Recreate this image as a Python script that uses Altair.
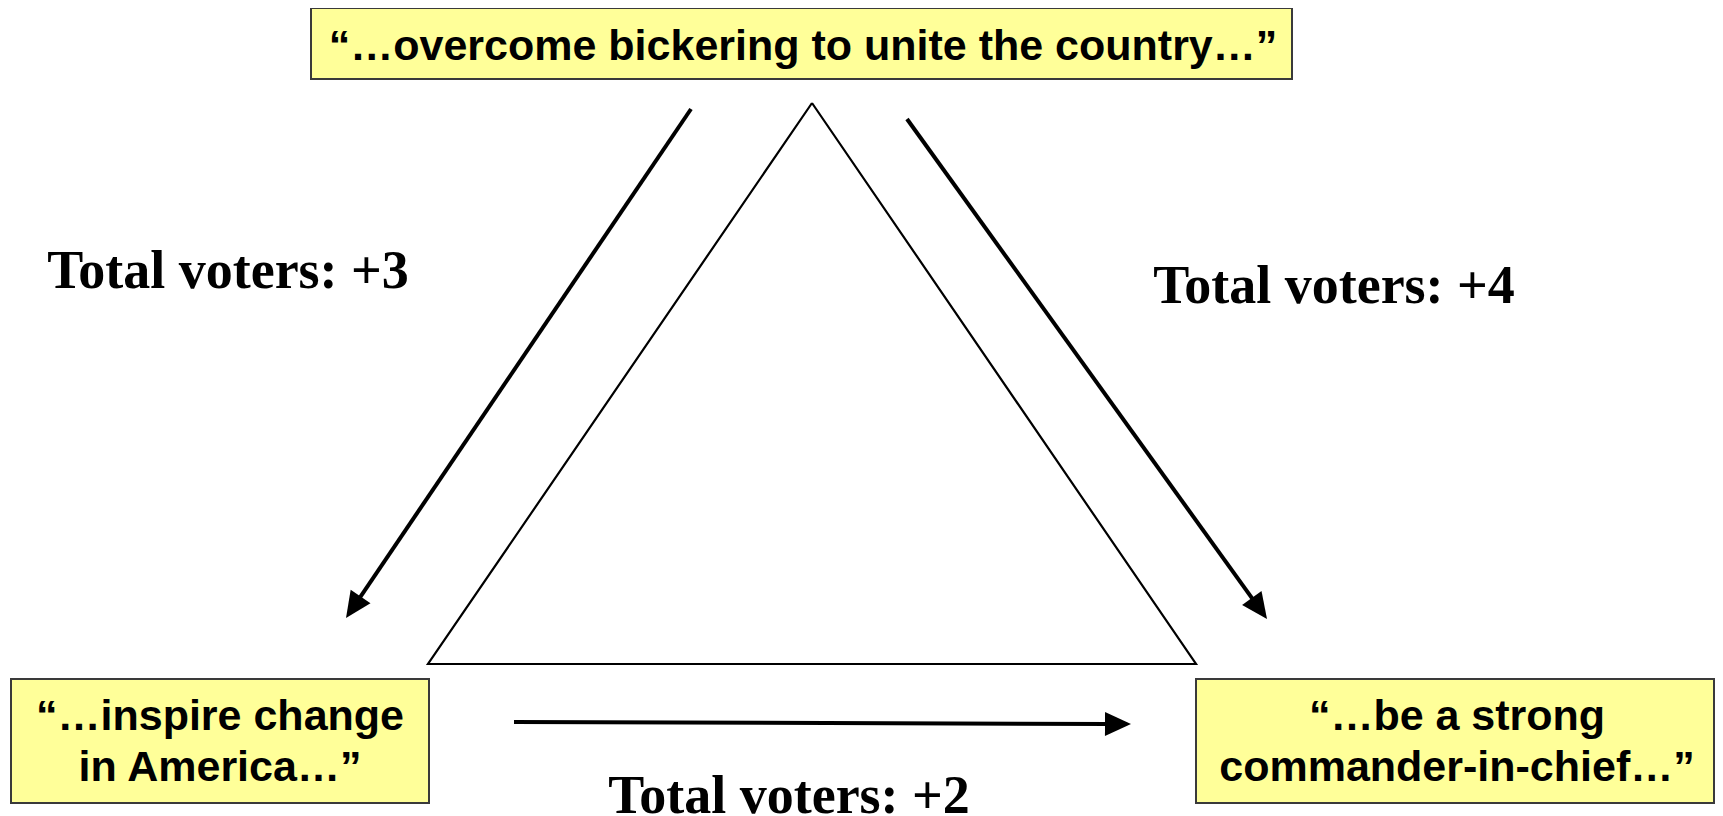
import math
import altair as alt
import pandas as pd

# ---------------- content ----------------
node_quotes = [
    ["“…overcome bickering to unite the country…”"],
    ["“…inspire change", "in America…”"],
    ["“…be a strong", "commander-in-chief…”"],
]
edge_from = [0, 0, 1]
edge_to = [1, 2, 2]
edge_gain = [3, 4, 2]

# ---------------- layout (page pixels) ----------------
W, H = 1707, 808
OX, OY = 8, 8
box_x = [311, 11, 1196]
box_x2 = [1292, 429, 1714]
box_y = [8, 679, 679]
box_y2 = [79, 803, 803]
text_cx = [803, 220, 1457]
text_base = [[60], [730, 781], [730, 781]]

tri_x = [812, 1196, 428, 812]
tri_y = [103, 664, 664, 103]

arrow_start = [(691, 109), (907, 119), (514, 722)]
arrow_tip = [(346, 618), (1267, 619), (1131, 724)]
label_cx = [228, 1334, 789]
label_base = [288, 303, 813]

HEAD_LEN = 26

xs = alt.Scale(domain=[OX, OX + W], nice=False, zero=False)
ys = alt.Scale(domain=[OY, OY + H], reverse=True, nice=False, zero=False)

# boxes
boxes = pd.DataFrame({"x": box_x, "x2": box_x2, "y": box_y, "y2": box_y2})
box_layer = alt.Chart(boxes).mark_rect(fill="#FFFF99", stroke="#3a3a3a", strokeWidth=2).encode(
    x=alt.X("x:Q", scale=xs, axis=None), x2="x2:Q",
    y=alt.Y("y:Q", scale=ys, axis=None), y2="y2:Q",
)

# box texts
rows = []
for i, lines in enumerate(node_quotes):
    for j, line in enumerate(lines):
        rows.append({"x": text_cx[i], "y": text_base[i][j], "t": line})
quote_layer = alt.Chart(pd.DataFrame(rows)).mark_text(
    font="Liberation Sans", fontWeight="bold", fontSize=43, color="black",
    align="center", baseline="alphabetic",
).encode(x=alt.X("x:Q", scale=xs, axis=None), y=alt.Y("y:Q", scale=ys, axis=None), text="t:N")

# triangle
tri = pd.DataFrame({"x": tri_x, "y": tri_y, "o": list(range(len(tri_x)))})
tri_layer = alt.Chart(tri).mark_line(color="black", strokeWidth=2.2, strokeJoin="miter").encode(
    x=alt.X("x:Q", scale=xs, axis=None), y=alt.Y("y:Q", scale=ys, axis=None), order="o:O"
)

# arrows
shafts, heads = [], []
for (sx, sy), (tx, ty) in zip(arrow_start, arrow_tip):
    dx, dy = tx - sx, ty - sy
    L = math.hypot(dx, dy)
    ux, uy = dx / L, dy / L
    shafts.append({"x": sx, "y": sy, "x2": tx - ux * (HEAD_LEN - 4), "y2": ty - uy * (HEAD_LEN - 4)})
    ang = math.degrees(math.atan2(dx, -dy)) % 360
    heads.append({"x": tx, "y": ty, "a": ang})

shaft_layer = alt.Chart(pd.DataFrame(shafts)).mark_rule(color="black", strokeWidth=4).encode(
    x=alt.X("x:Q", scale=xs, axis=None), x2="x2:Q",
    y=alt.Y("y:Q", scale=ys, axis=None), y2="y2:Q",
)
head_layer = alt.Chart(pd.DataFrame(heads)).mark_point(
    shape="M0,0L0.92,2L-0.92,2Z", filled=True, color="black", opacity=1, size=HEAD_LEN ** 2
).encode(
    x=alt.X("x:Q", scale=xs, axis=None), y=alt.Y("y:Q", scale=ys, axis=None),
    angle=alt.Angle("a:Q", scale=None),
)

# edge labels
labels = pd.DataFrame({
    "x": label_cx, "y": label_base,
    "t": [f"Total voters: +{g}" for g in edge_gain],
})
label_layer = alt.Chart(labels).mark_text(
    font="Liberation Serif", fontWeight="bold", fontSize=54, color="black",
    align="center", baseline="alphabetic",
).encode(x=alt.X("x:Q", scale=xs, axis=None), y=alt.Y("y:Q", scale=ys, axis=None), text="t:N")

chart = alt.layer(
    box_layer, quote_layer, tri_layer, shaft_layer, head_layer, label_layer
).properties(
    width=W, height=H, padding=0, autosize=alt.AutoSizeParams(type="none"), background="white"
).configure_view(stroke=None)

chart.save("out.html", embed_options={"renderer": "svg", "actions": False})
